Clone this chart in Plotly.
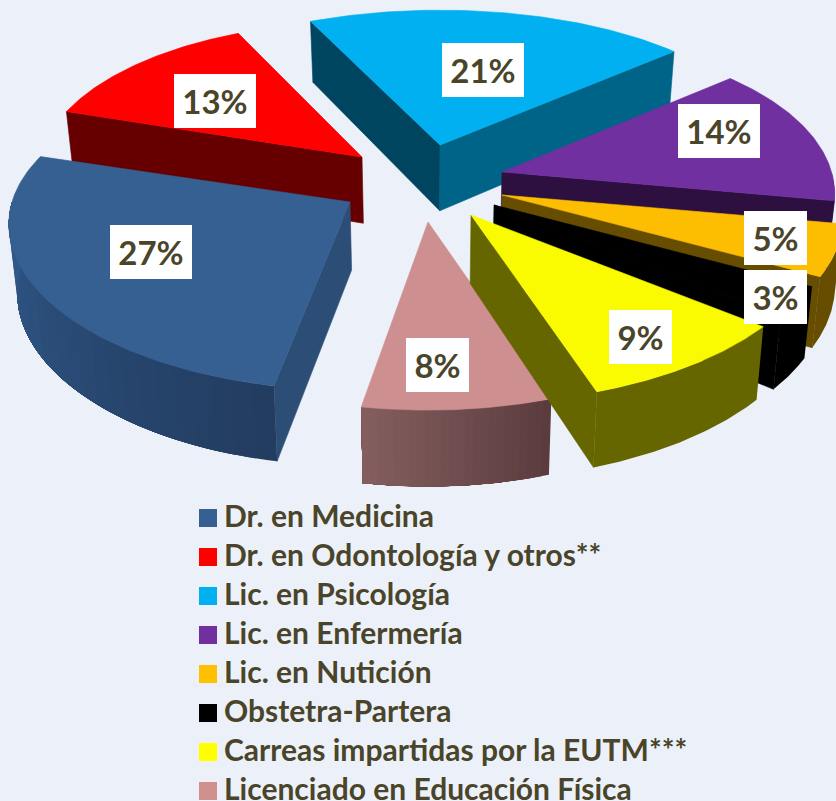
import numpy as np
import plotly.graph_objects as go

CATEGORIES = ["Dr. en Medicina", "Dr. en Odontología y otros**", "Lic. en Psicología",
              "Lic. en Enfermería", "Lic. en Nutición", "Obstetra-Partera",
              "Carreas impartidas por la EUTM***", "Licenciado en Educación Física"]
PERCENTAGES = [27, 13, 21, 14, 5, 3, 9, 8]

# Styling per slice
TOP = ["#376092", "#ff0000", "#00b0f0", "#7030a0", "#fdbd00", "#000000", "#fafa00", "#cd8f8f"]
FACE = ["#2c4d76", "#660000", "#00455f", "#2d1040", "#664d00", "#000000", "#666600", "#825e5e"]
END_FACE = ["#2c4d76", "#660000", "#006488", "#2d1040", "#664d00", "#000000", "#666600", "#825e5e"]
ARC_LOW = ["#223c5f", "#660000", "#006488", "#2d1040", "#664d00", "#000000", "#666600", "#5a3b3d"]
ARC_HIGH = ["#31598a", "#660000", "#006488", "#2d1040", "#664d00", "#000000", "#666600", "#855f5f"]
LEGEND_COLOR = ["#376092", "#ff0000", "#00b0f0", "#7030a0", "#ffc000", "#000000", "#ffff00", "#d09090"]
# Exploded position of each slice's tip on the page
APEX = [(350, 202), (362, 157), (440, 145), (502, 172), (502, 195), (494, 205), (471, 215), (428, 222)]
RX_SCALE = [1.0, 0.955, 1.0, 0.975, 1.0, 1.0, 1.02, 1.0]
START_NUDGE = [1.4, 0, 0, 0, 0, 0, 0, 0]
LABEL_AT = [(151, 252), (215, 101), (483, 70), (719, 131), (775, 238), (775, 297), (640, 337), (437, 365)]
LABEL_W = [82, 82, 82, 82, 63, 63, 63, 63]
DRAW_ORDER = [1, 2, 3, 4, 5, 0, 7, 6]

START_ANGLE = 190.0
R_X, R_Y, PERSP_X, PERSP_Y = 338.0, 161.5, 0.14, 0.165
FLOOR_SHRINK, FLOOR_CENTER = 0.02, 430
LEGEND_X, LEGEND_Y0, LEGEND_ROW, LEGEND_TEXT_DX, LEGEND_TEXT_DY = 208, 518, 39, 16, 1
BG = "#ecf1f9"
TEXT = "#4a452a"
FONT = "Lato, 'Open Sans', sans-serif"


def project(theta, apex, rx_scale=1.0):
    t = np.radians(theta)
    s, c = np.sin(t), np.cos(t)
    return (apex[0] + rx_scale * R_X * s * (1 - PERSP_X * c),
            apex[1] - R_Y * c * (1 - PERSP_Y * c))


def depth(y):
    return 60 + 0.04 * np.asarray(y, dtype=float)


def floor_x(x):
    x = np.asarray(x, dtype=float)
    return x + FLOOR_SHRINK * (FLOOR_CENTER - x)


def mix(a, b, f):
    ca = [int(a[i:i + 2], 16) for i in (1, 3, 5)]
    cb = [int(b[i:i + 2], 16) for i in (1, 3, 5)]
    return "rgb(%d,%d,%d)" % tuple(round(x + (y - x) * f) for x, y in zip(ca, cb))


fig = go.Figure()


def poly(xs, ys, color, name, lw=0.6):
    fig.add_trace(go.Scatter(x=list(xs), y=list(ys), mode="lines", fill="toself",
                             fillcolor=color, line=dict(color=color, width=lw),
                             showlegend=False, hoverinfo="skip", name=name))


def face(apex, p, color, name):
    poly([apex[0], p[0], floor_x(p[0]), floor_x(apex[0]), apex[0]],
         [apex[1], p[1], p[1] + depth(p[1]), apex[1] + depth(apex[1]), apex[1]], color, name)


bounds = START_ANGLE + np.concatenate([[0], np.cumsum(PERCENTAGES)]) * 3.6
for i in DRAW_ORDER:
    a0, a1 = bounds[i] + START_NUDGE[i], bounds[i + 1]
    apex = APEX[i]
    name = CATEGORIES[i]
    mid = project((a0 + a1) / 2, apex, RX_SCALE[i])
    m = (mid[0] - apex[0], mid[1] - apex[1])
    for ang, col in ((a0, FACE[i]), (a1, END_FACE[i])):
        p = project(ang, apex, RX_SCALE[i])
        d = (p[0] - apex[0], p[1] - apex[1])
        n = (-d[1], d[0])
        if n[0] * m[0] + n[1] * m[1] > 0:
            n = (-n[0], -n[1])
        if n[1] > 0:
            face(apex, p, col, name)
    # outer rim: only the part that faces the viewer; nested bands give a seamless gradient
    for off in (0, 360):
        lo, hi = max(a0, 90 + off), min(a1, 270 + off)
        if hi > lo:
            bands = 24 if ARC_LOW[i] != ARC_HIGH[i] else 1
            edges = np.linspace(lo, hi, bands + 1)
            for k in range(bands):
                seg = np.linspace(edges[k], hi, 60)
                x, y = project(seg, apex, RX_SCALE[i])
                f = (k + 0.5) / bands
                poly(np.r_[x, floor_x(x)[::-1], x[0]], np.r_[y, (y + depth(y))[::-1], y[0]],
                     mix(ARC_LOW[i], ARC_HIGH[i], f), name, lw=0)
    arc = np.linspace(a0, a1, 80)
    x, y = project(arc, apex, RX_SCALE[i])
    fig.add_trace(go.Scatter(x=np.r_[apex[0], x, apex[0]], y=np.r_[apex[1], y, apex[1]],
                             mode="lines", fill="toself", fillcolor=TOP[i],
                             line=dict(color=TOP[i], width=0.6), showlegend=False,
                             name=name, hoverinfo="name+text", text=f"{PERCENTAGES[i]}%"))

for k, (name, col) in enumerate(zip(CATEGORIES, LEGEND_COLOR)):
    row_y = LEGEND_Y0 + k * LEGEND_ROW
    fig.add_trace(go.Scatter(x=[LEGEND_X], y=[row_y], mode="markers", name=name,
                             marker=dict(symbol="square", size=18, color=col),
                             showlegend=False, hoverinfo="name"))
    fig.add_trace(go.Scatter(x=[LEGEND_X + LEGEND_TEXT_DX], y=[row_y + LEGEND_TEXT_DY], mode="text", name=name,
                             text=[name], textposition="middle right",
                             textfont=dict(family=FONT, size=30, color=TEXT, weight="bold"),
                             showlegend=False, cliponaxis=False, hoverinfo="skip"))

for pct, (lx, ly), w in zip(PERCENTAGES, LABEL_AT, LABEL_W):
    fig.add_annotation(x=lx, y=ly, text=f"<b>{pct}%</b>", showarrow=False, bgcolor="#ffffff",
                       width=w, height=54, borderpad=0, borderwidth=0, align="center",
                       font=dict(family=FONT, size=33, color=TEXT))

fig.update_layout(
    width=836, height=801, autosize=False, paper_bgcolor=BG, plot_bgcolor=BG,
    margin=dict(l=0, r=0, t=0, b=0, autoexpand=False),
    xaxis=dict(range=[0, 836], visible=False, fixedrange=True),
    yaxis=dict(range=[801, 0], visible=False, fixedrange=True),
    showlegend=False,
)
fig.write_html("out.html", config={"displayModeBar": False},
               post_script="document.body.style.margin='0';document.body.style.overflow='hidden';")
